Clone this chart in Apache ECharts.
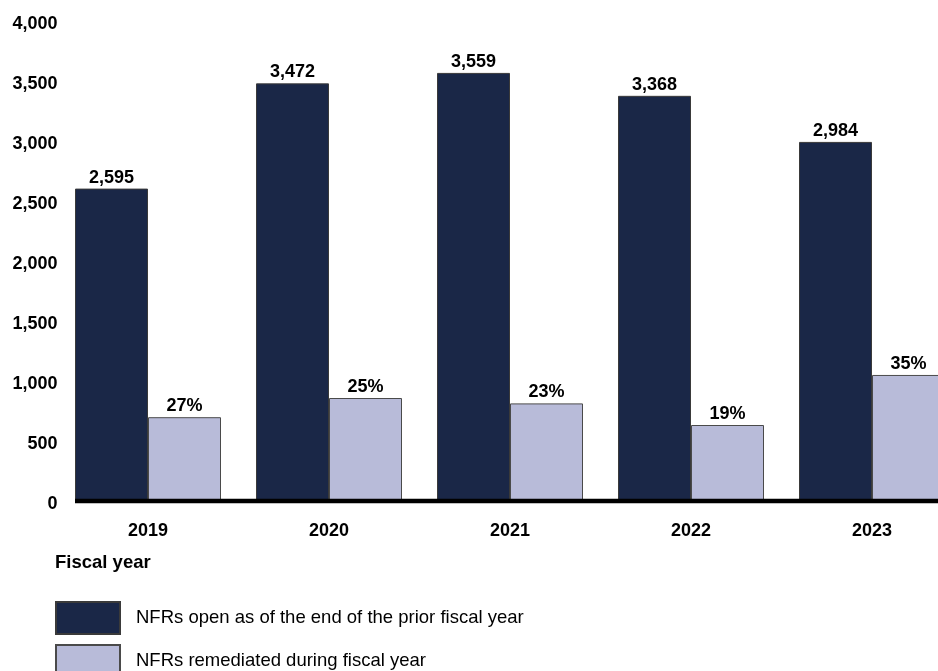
<!DOCTYPE html>
<html>
<head>
<meta charset="utf-8">
<script src="https://cdn.jsdelivr.net/npm/echarts@6/dist/echarts.min.js"></script>
<style>
  html, body { margin: 0; padding: 0; background: #ffffff; }
  #chart { width: 938px; height: 671px; }
</style>
</head>
<body>
<div id="chart"></div>
<script>
const years = ['2019', '2020', '2021', '2022', '2023'];
const openNFRs = [2595, 3472, 3559, 3368, 2984];
const remediatedNFRs = [690, 850, 805, 625, 1042];
const remediatedPct = ['27%', '25%', '23%', '19%', '35%'];
const yTicks = { min: 0, max: 4000, interval: 500 };
const seriesNames = ['NFRs open as of the end of the prior fiscal year', 'NFRs remediated during fiscal year'];
const xTitle = 'Fiscal year';

const FONT = 'Liberation Sans, Arial, sans-serif';
const chart = echarts.init(document.getElementById('chart'), null, { renderer: 'canvas' });

const option = {
  animation: false,
  backgroundColor: '#ffffff',
  textStyle: { fontFamily: FONT },
  title: {
    text: xTitle,
    left: 55,
    top: 553,
    padding: 0,
    textStyle: { fontFamily: FONT, fontSize: 18.5, fontWeight: 'bold', color: '#000' }
  },
  legend: {
    orient: 'vertical',
    left: 55,
    top: 601,
    height: 120,
    padding: 0,
    itemWidth: 64,
    itemHeight: 32,
    itemGap: 9,
    icon: 'rect',
    textStyle: { fontFamily: FONT, fontSize: 18.5, color: '#000', padding: [0, 0, 0, 11] },
    data: seriesNames
  },
  grid: { left: 57.5, right: -24.5, top: 20, bottom: 171, containLabel: false, outerBoundsMode: 'none' },
  xAxis: {
    type: 'category',
    data: years,
    axisLine: { show: false },
    axisTick: { show: false },
    axisLabel: { margin: 22, fontFamily: FONT, fontSize: 18, fontWeight: 'bold', color: '#000' }
  },
  yAxis: {
    type: 'value',
    min: yTicks.min,
    max: yTicks.max,
    interval: yTicks.interval,
    splitLine: { show: false },
    axisLine: { show: false },
    axisTick: { show: false },
    axisLabel: {
      margin: 0,
      formatter: v => '{t|' + v.toLocaleString('en-US') + '}',
      rich: {
        t: { fontFamily: FONT, fontSize: 18, fontWeight: 'bold', color: '#000', padding: [9, 0, 0, 0] }
      }
    }
  },
  series: [
    {
      name: seriesNames[0],
      type: 'bar',
      data: openNFRs,
      barWidth: 73,
      barGap: '0%',
      itemStyle: { color: '#1a2747', borderColor: '#3a3a3a', borderWidth: 1 },
      label: {
        show: true, position: 'top', distance: 2,
        fontFamily: FONT, fontSize: 18, fontWeight: 'bold', color: '#000',
        formatter: p => p.value.toLocaleString('en-US')
      }
    },
    {
      name: seriesNames[1],
      type: 'bar',
      data: remediatedNFRs,
      barWidth: 73,
      barGap: '0%',
      itemStyle: { color: '#b8bbd9', borderColor: '#4a4a4a', borderWidth: 1 },
      label: {
        show: true, position: 'top', distance: 2,
        fontFamily: FONT, fontSize: 18, fontWeight: 'bold', color: '#000',
        formatter: p => remediatedPct[p.dataIndex]
      }
    }
  ]
};
chart.setOption(option);

// thick baseline at zero, starting at the left edge of the first bar
const y0 = chart.convertToPixel({ yAxisIndex: 0 }, 0);
const xFirst = chart.convertToPixel({ xAxisIndex: 0 }, years[0]) - 73;
chart.setOption({
  graphic: [{
    type: 'line',
    shape: { x1: xFirst, y1: y0 + 1, x2: 938, y2: y0 + 1 },
    style: { stroke: '#000', lineWidth: 4.5 },
    z: 100
  }]
});
</script>
</body>
</html>
